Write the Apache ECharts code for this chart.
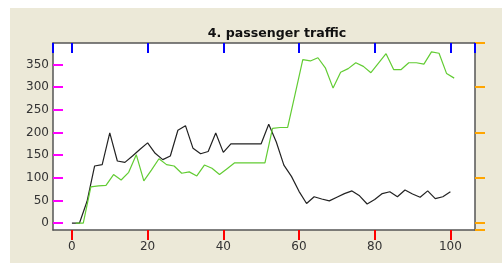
<!DOCTYPE html>
<html lang="en">
<head>
    <meta charset="UTF-8">
    <title>4. passenger traffic</title>
    <script src="https://cdn.jsdelivr.net/npm/echarts@6/dist/echarts.min.js"></script>
    <style>
        * {
            margin: 0;
            padding: 0;
        }

        body {
            background: #ffffff;
        }

        .panel {
            position: absolute;
            left: 10px;
            top: 8px;
            width: 492px;
            height: 255px;
            background: #ece9d8;
        }

        .plot {
            position: absolute;
            left: 53px;
            top: 43px;
            width: 422px;
            height: 187px;
            background: #ffffff;
        }

        .box {
            position: absolute;
            left: 0;
            top: 0;
            width: 502px;
            height: 267px;
        }
    </style>
</head>
<body>
    <div class="panel"></div>
    <div class="plot"></div>
    <div class="box" id="myChart"></div>
    <script>
        const blackX = [0, 2, 4, 6, 8, 10, 12, 14, 16, 18, 20, 22, 24, 26, 28, 30, 32, 34, 36, 38, 40,
            42, 44, 46, 48, 50, 52, 54, 56, 58, 60, 62, 64, 66, 68, 70, 72, 74, 76, 78, 80,
            82, 84, 86, 88, 90, 92, 94, 96, 98, 100];
        const blackY = [0, 0, 48, 126, 129, 199, 137, 134, 148, 163, 177, 154, 140, 148, 205, 215, 165, 153, 158, 199, 156,
            175, 175, 175, 175, 175, 218, 179, 128, 103, 70, 43, 58, 53, 49, 57, 65, 71, 60, 42, 52,
            65, 69, 58, 73, 64, 57, 71, 54, 58, 69];
        const greenX = [1, 3, 5, 7, 9, 11, 13, 15, 17, 19, 21, 23, 25, 27, 29, 31, 33, 35, 37, 39, 41,
            43, 45, 47, 49, 51, 53, 55, 57, 59, 61, 63, 65, 67, 69, 71, 73, 75, 77, 79, 81,
            83, 85, 87, 89, 91, 93, 95, 97, 99, 101];
        const greenY = [0, 0, 80, 82, 83, 107, 95, 112, 151, 93, 117, 142, 129, 126, 110, 113, 104, 128, 121, 107, 120,
            133, 133, 133, 133, 133, 209, 211, 211, 286, 361, 358, 365, 342, 298, 333, 341, 354, 346, 332, 353,
            374, 339, 339, 354, 354, 351, 378, 375, 330, 320];
        const xTicks = [0, 20, 40, 60, 80, 100];
        const yTicks = [0, 50, 100, 150, 200, 250, 300, 350];

        const font = 'DejaVu Sans';
        const frame = { show: true, onZero: false, lineStyle: { color: '#555', width: 1.5 } };

        let myChart = echarts.init(document.getElementById('myChart'));
        const option = {
            animation: false,
            backgroundColor: 'transparent',
            title: {
                text: '4. passenger traffic',
                left: 272,
                top: 22,
                textAlign: 'center',
                textStyle: { fontFamily: font, fontWeight: 'bold', fontSize: 12.6, color: '#111' }
            },
            grid: { left: 53, right: 27, top: 43, bottom: 37 },
            xAxis: [{
                    type: 'value', position: 'bottom', min: -5, max: 106.5,
                    axisLine: frame, splitLine: { show: false },
                    axisTick: { show: true, inside: false, length: 10, customValues: xTicks, lineStyle: { color: 'red', width: 2 } },
                    axisLabel: { customValues: xTicks, margin: 11, color: '#333', fontFamily: font, fontSize: 12 }
                },
                {
                    type: 'value', position: 'top', min: -5, max: 106.5,
                    axisLine: frame, splitLine: { show: false },
                    axisTick: { show: true, inside: true, length: 10, lineStyle: { color: 'blue', width: 2 } },
                    axisLabel: { show: false }
                }
            ],
            yAxis: [{
                    type: 'value', position: 'left', min: -15.4, max: 397.6,
                    axisLine: frame, splitLine: { show: false },
                    axisTick: { show: true, inside: true, length: 10, customValues: yTicks, lineStyle: { color: 'magenta', width: 2 } },
                    axisLabel: { customValues: yTicks, margin: 4, color: '#333', fontFamily: font, fontSize: 12 }
                },
                {
                    type: 'value', position: 'right', min: -15.4, max: 397.6,
                    axisLine: frame, splitLine: { show: false },
                    axisTick: { show: true, inside: false, length: 10, lineStyle: { color: 'orange', width: 2 } },
                    axisLabel: { show: false }
                }
            ],
            series: [{
                    name: 'black', type: 'line', showSymbol: false,
                    lineStyle: { color: '#222', width: 1.2 },
                    data: blackX.map((x, i) => [x, blackY[i]])
                },
                {
                    name: 'green', type: 'line', showSymbol: false,
                    lineStyle: { color: '#62cc33', width: 1.2 },
                    data: greenX.map((x, i) => [x, greenY[i]])
                }
            ]
        };
        myChart.setOption(option);
    </script>
</body>
</html>
